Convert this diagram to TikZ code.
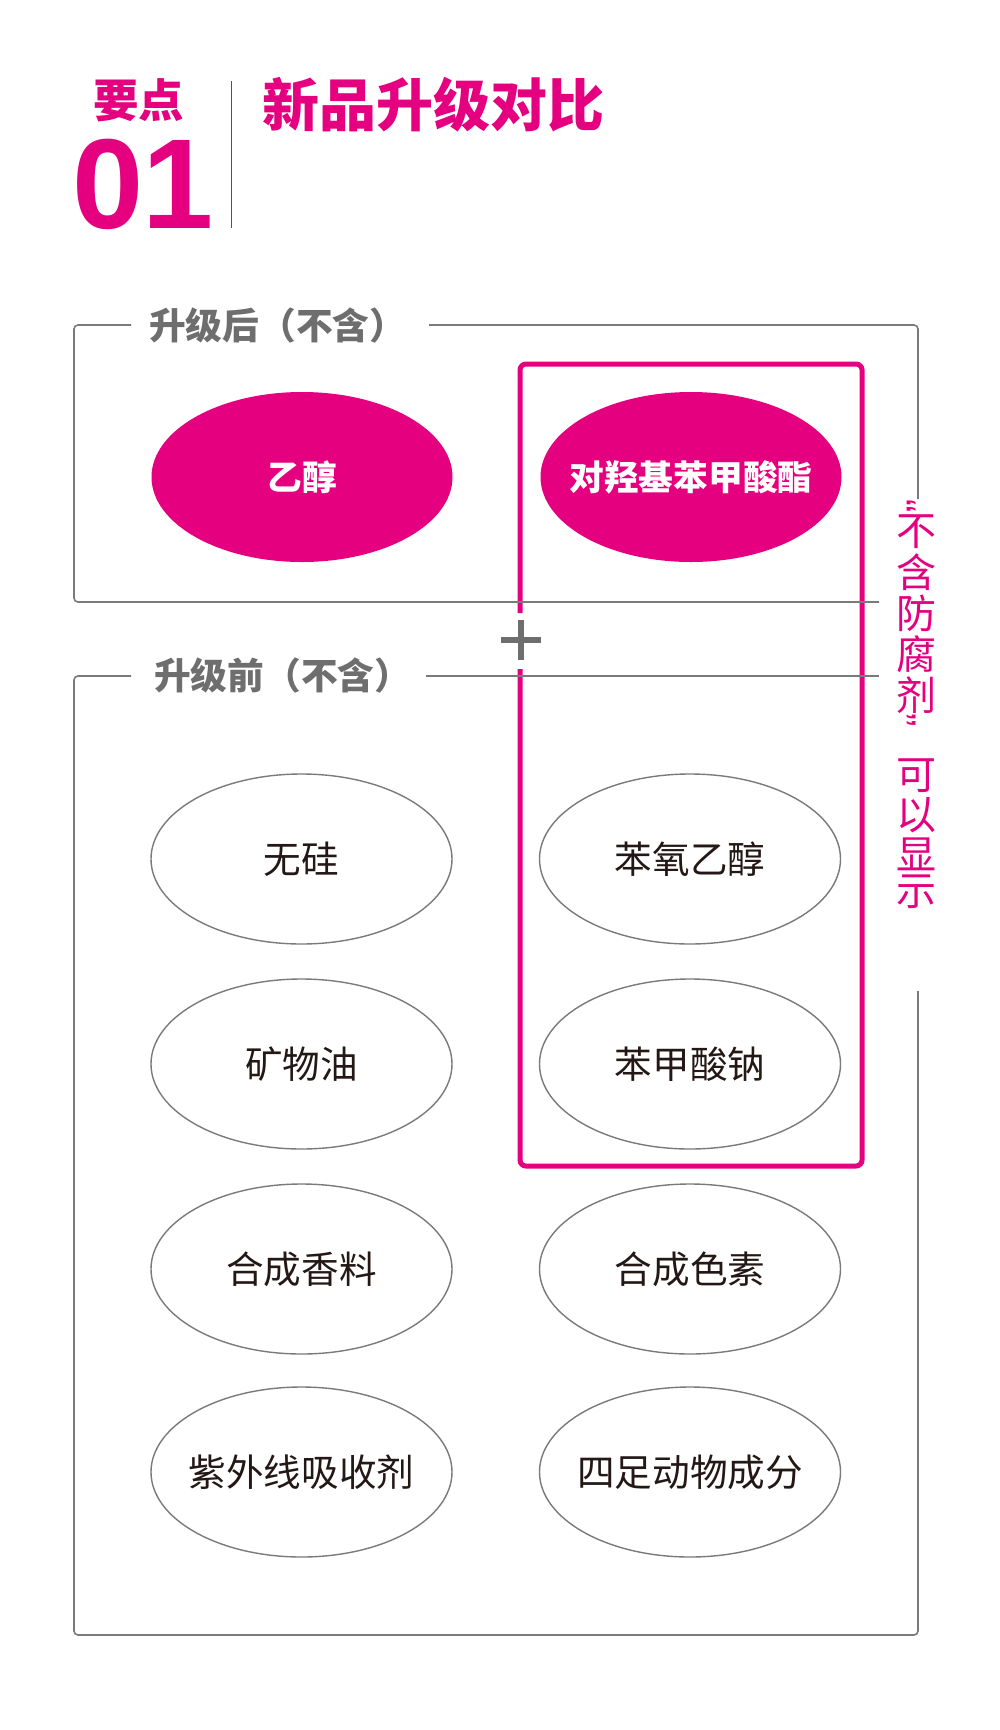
\documentclass[tikz,border=0pt]{standalone}
\usepackage{fontspec}
\setmainfont{Liberation Sans}
\newfontfamily\cjk{Noto Sans CJK SC}
\usetikzlibrary{shapes.geometric}
\definecolor{pk}{HTML}{E4007F}
\definecolor{ln}{HTML}{7A7A7A}
\definecolor{lb}{HTML}{6E6E6E}
\definecolor{tx}{HTML}{231815}
\begin{document}
\begin{tikzpicture}[x=1pt,y=-1pt,
  zerow/.style={execute at begin node={\hbox to 0pt\bgroup\hss}, execute at end node={\hss\egroup}},
  oval/.style={ellipse, zerow, draw=ln, line width=1.4pt, minimum width=301pt, minimum height=170pt, inner sep=0pt, text=tx, font=\cjk\fontsize{37.6}{40}\selectfont},
  hot/.style={ellipse, zerow, fill=pk, minimum width=301pt, minimum height=170pt, inner sep=0pt, text=white, font=\cjk\bfseries\fontsize{34.7}{38}\selectfont},
  frame/.style={draw=ln, line width=1.6pt, rounded corners=4pt},
  lab/.style={anchor=west, inner sep=0pt, text=lb, font=\cjk\bfseries\fontsize{36.7}{40}\selectfont},
  vt/.style={inner sep=0pt, text=pk, font=\cjk\fontsize{40}{40}\selectfont},
  vq/.style={inner sep=0pt, text=pk, rotate=-90, text height=0pt, text depth=0pt, font=\fontsize{40}{40}\selectfont},
  head/.style={inner sep=0pt, text=pk},
]
\useasboundingbox (0,0) rectangle (1000,1730);
% header
\node[head, anchor=west, font=\cjk\bfseries\fontsize{45.5}{48}\selectfont] (yd) at (93,100.5) {要点};
\node[head, anchor=base west, font=\bfseries\fontsize{128}{128}\selectfont] (d0) at (72.5,228) {0};
\node[head, anchor=base west, font=\bfseries\fontsize{128}{128}\selectfont] (d1) at (142,228) {1};
\coordinate (s1) at (231,81);
\coordinate (s2) at (231,228);
\draw[pk, line width=1pt] (s1) -- (s2);
\node[head, anchor=west, font=\cjk\bfseries\fontsize{57}{60}\selectfont] (title) at (262,104.5) {新品升级对比};
% pink frame
\draw[pk, line width=5pt, rounded corners=6pt] (520,613) -- (520,364) -- (862,364) -- (862,1166) -- (520,1166) -- (520,669);
% gray frames
\draw[frame] (131,325) -- (74,325) -- (74,602) -- (879,602);
\draw[frame] (429,325) -- (918,325) -- (918,499);
\draw[frame] (131,676) -- (74,676) -- (74,1635) -- (918,1635) -- (918,991);
\draw[frame] (426,676) -- (879,676);
% plus
\coordinate (plus) at (521,640);
\draw[lb, line width=6pt] ([xshift=-20pt]plus) -- ([xshift=20pt]plus);
\draw[lb, line width=6pt] ([yshift=20pt]plus) -- ([yshift=-20pt]plus);
% labels
\node[lab] (after) at (149,326) {升级后（不含）};
\node[lab] (before) at (154,676) {升级前（不含）};
% ellipses
\node[hot] (e1) at (302,477) {乙醇};
\node[hot] (e2) at (691,477) {对羟基苯甲酸酯};
\node[oval] (a1) at (301.5,859) {无硅};
\node[oval] (b1) at (690,859) {苯氧乙醇};
\node[oval] (a2) at (301.5,1064) {矿物油};
\node[oval] (b2) at (690,1064) {苯甲酸钠};
\node[oval] (a3) at (301.5,1269) {合成香料};
\node[oval] (b3) at (690,1269) {合成色素};
\node[oval] (a4) at (301.5,1472) {紫外线吸收剂};
\node[oval] (b4) at (690,1472) {四足动物成分};
% vertical note
\node[vq] (q1) at (912,506) {\raisebox{-0.6em}{“}};
\node[vt] (v1) at (916,532) {不};
\node[vt] (v2) at (916,572) {含};
\node[vt] (v3) at (916,613) {防};
\node[vt] (v4) at (916,654) {腐};
\node[vt] (v5) at (916,695) {剂};
\node[vq] (q2) at (912,720) {\raisebox{-0.6em}{”}};
\node[vt] (v6) at (916,776) {可};
\node[vt] (v7) at (916,815) {以};
\node[vt] (v8) at (916,854) {显};
\node[vt] (v9) at (916,892) {示};
\end{tikzpicture}
\end{document}
